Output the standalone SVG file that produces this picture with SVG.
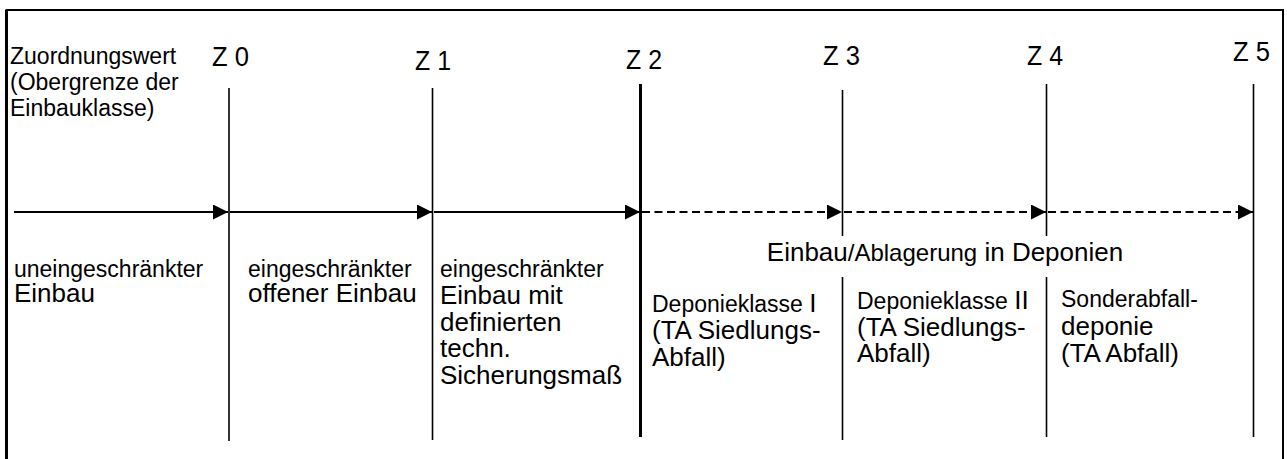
<svg xmlns="http://www.w3.org/2000/svg" width="1287" height="459" viewBox="0 0 1287 459">
  <style>
    text { font-family: "Liberation Sans", Arial, sans-serif; fill: #000; }
    .s { font-size: 23px; }
    .l { font-size: 26px; }
    .z { font-size: 27px; }
    .tick { stroke: #000; stroke-width: 1.6; fill: none; }
    .solid { stroke: #000; stroke-width: 2; fill: none; }
    .dash { stroke: #000; stroke-width: 2; fill: none; stroke-dasharray: 8 4.5; }
  </style>
  <defs>
    <marker id="head" viewBox="0 0 10 10" refX="10" refY="5" markerWidth="7.5" markerHeight="7.5" markerUnits="strokeWidth" orient="auto">
      <path d="M0,0 L10,5 L0,10 Z" fill="#000"/>
    </marker>
  </defs>

  <rect width="1287" height="459" fill="#fff"/>

  <!-- outer frame, open at the bottom -->
  <g id="frame" fill="none" stroke="#000">
    <path d="M6.5,459 V10 H1283 V459" stroke-width="2"/>
    <line x1="6.5" y1="10" x2="6.5" y2="459" stroke-width="3"/>
  </g>

  <!-- axis caption -->
  <g id="caption">
    <text class="s" x="10" y="64">Zuordnungswert</text>
    <text class="s" x="10" y="90">(Obergrenze der</text>
    <text class="s" x="10" y="116">Einbauklasse)</text>
  </g>

  <!-- class boundaries Z0..Z5 (narrow labels) -->
  <g id="z0">
    <text class="z" x="212" y="66" textLength="37" lengthAdjust="spacingAndGlyphs">Z 0</text>
    <line class="tick" x1="229" y1="88" x2="229" y2="441"/>
  </g>
  <g id="z1">
    <text class="z" x="415" y="70" textLength="36" lengthAdjust="spacingAndGlyphs">Z 1</text>
    <line class="tick" x1="432.5" y1="88" x2="432.5" y2="440"/>
  </g>
  <g id="z2">
    <text class="z" x="626" y="69" textLength="36" lengthAdjust="spacingAndGlyphs">Z 2</text>
    <line x1="640.5" y1="84" x2="640.5" y2="437" stroke="#000" stroke-width="3"/>
  </g>
  <g id="z3">
    <text class="z" x="823" y="65" textLength="37" lengthAdjust="spacingAndGlyphs">Z 3</text>
    <line class="tick" x1="842.5" y1="90" x2="842.5" y2="236"/>
    <line class="tick" x1="842.5" y1="277" x2="842.5" y2="440"/>
  </g>
  <g id="z4">
    <text class="z" x="1027" y="65" textLength="36" lengthAdjust="spacingAndGlyphs">Z 4</text>
    <line class="tick" x1="1046.5" y1="84" x2="1046.5" y2="236"/>
    <line class="tick" x1="1046.5" y1="277" x2="1046.5" y2="437"/>
  </g>
  <g id="z5">
    <text class="z" x="1233" y="61" textLength="37" lengthAdjust="spacingAndGlyphs">Z 5</text>
    <line class="tick" x1="1253.5" y1="84" x2="1253.5" y2="437"/>
  </g>

  <!-- arrows between the boundaries -->
  <g id="connectors">
    <line class="solid" x1="14" y1="212" x2="228" y2="212" marker-end="url(#head)"/>
    <line class="solid" x1="230" y1="212" x2="432" y2="212" marker-end="url(#head)"/>
    <line class="solid" x1="434" y1="212" x2="640" y2="212" marker-end="url(#head)"/>
    <line class="dash" x1="642" y1="212" x2="842" y2="212" marker-end="url(#head)"/>
    <line class="dash" x1="844" y1="212" x2="1046" y2="212" marker-end="url(#head)"/>
    <line class="dash" x1="1048" y1="212" x2="1253" y2="212" marker-end="url(#head)"/>
  </g>

  <!-- class descriptions -->
  <g id="class-z0">
    <text class="s" x="14" y="277">uneingeschränkter</text>
    <text class="l" x="14" y="302">Einbau</text>
  </g>
  <g id="class-z1">
    <text class="s" x="248" y="277">eingeschränkter</text>
    <text class="l" x="248" y="302">offener Einbau</text>
  </g>
  <g id="class-z2">
    <text class="s" x="440" y="277">eingeschränkter</text>
    <text class="l" x="440" y="304">Einbau mit</text>
    <text class="l" x="440" y="331">definierten</text>
    <text class="l" x="440" y="357">techn.</text>
    <text class="l" x="440" y="384">Sicherungsmaß</text>
  </g>

  <g id="landfill-heading">
    <text class="l" x="945" y="261" text-anchor="middle" font-size="27">Einbau<tspan font-size="24">/Ablagerung</tspan> in Deponien</text>
  </g>
  <g id="class-z3">
    <text class="s" x="652" y="312">Deponieklasse <tspan class="l">I</tspan></text>
    <text class="l" x="652" y="339">(TA Siedlungs-</text>
    <text class="l" x="652" y="366">Abfall)</text>
  </g>
  <g id="class-z4">
    <text class="s" x="857" y="309">Deponieklasse <tspan class="l">II</tspan></text>
    <text class="l" x="857" y="336">(TA Siedlungs-</text>
    <text class="l" x="857" y="362">Abfall)</text>
  </g>
  <g id="class-z5">
    <text class="s" x="1061" y="307">Sonderabfall-</text>
    <text class="l" x="1061" y="335">deponie</text>
    <text class="l" x="1061" y="362">(TA Abfall)</text>
  </g>
</svg>
